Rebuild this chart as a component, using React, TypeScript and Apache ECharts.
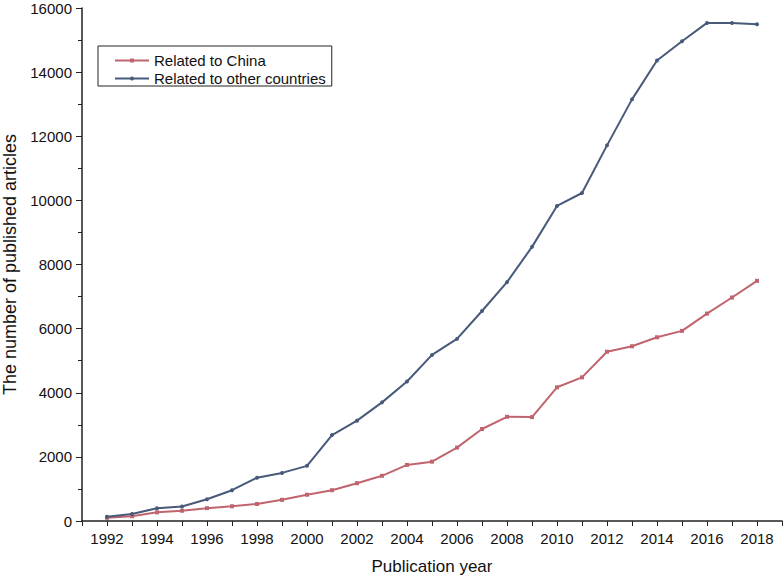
import React, { useEffect, useRef } from "react";
import * as echarts from "echarts";

const years = [1992,1993,1994,1995,1996,1997,1998,1999,2000,2001,2002,2003,2004,2005,2006,2007,2008,2009,2010,2011,2012,2013,2014,2015,2016,2017,2018];
const china = [100,150,270,320,400,460,530,660,820,960,1180,1410,1750,1850,2290,2870,3250,3240,4170,4480,5280,5450,5730,5930,6470,6970,7490];
const others = [130,220,400,450,680,960,1350,1500,1720,2680,3130,3700,4350,5180,5680,6550,7450,8550,9825,10230,11715,13150,14365,14965,15535,15535,15495];
const seriesNames = ["Related to China", "Related to other countries"];

export default function App() {
  const ref = useRef<HTMLDivElement>(null);
  useEffect(() => {
    const chart = echarts.init(ref.current!, null, { renderer: "svg" });
    const font = "Liberation Sans, Arial, sans-serif";
    chart.setOption({
      animation: false,
      textStyle: { fontFamily: font },
      grid: { left: 82, top: 8, right: 2, bottom: 56, containLabel: false, outerBoundsMode: "none" },
      legend: {
        orient: "vertical",
        left: 98,
        top: 46,
        data: seriesNames,
        borderColor: "#222",
        borderWidth: 1,
        padding: [7, 6, 0, 16],
        itemGap: 3,
        itemWidth: 34,
        itemHeight: 5,
        textStyle: { fontSize: 15, color: "#111", fontFamily: font },
      },
      xAxis: {
        type: "value",
        min: 1991,
        max: 2019,
        interval: 1,
        name: "Publication year",
        nameLocation: "middle",
        nameGap: 37,
        nameTextStyle: { fontSize: 17, color: "#111", fontFamily: font },
        axisLine: { lineStyle: { color: "#222", width: 1.5 } },
        axisTick: { inside: false, length: 5, lineStyle: { color: "#222" } },
        splitLine: { show: false },
        axisLabel: {
          fontSize: 15,
          color: "#111",
          margin: 10,
          formatter: (v: number) => (v % 2 === 0 && v >= 1992 && v <= 2018 ? String(v) : ""),
        },
      },
      yAxis: {
        type: "value",
        min: 0,
        max: 16000,
        interval: 2000,
        name: "The number of published articles",
        nameLocation: "middle",
        nameGap: 62,
        nameTextStyle: { fontSize: 18, color: "#111", fontFamily: font },
        axisLine: { show: true, lineStyle: { color: "#222", width: 1.5 } },
        axisTick: { show: true, length: 6, lineStyle: { color: "#222" } },
        minorTick: { show: true, splitNumber: 2, length: 4, lineStyle: { color: "#222" } },
        splitLine: { show: false },
        axisLabel: { fontSize: 15, color: "#111", margin: 10, formatter: (v: number) => String(v) },
      },
      series: [
        {
          name: seriesNames[0],
          type: "line",
          data: years.map((y, i) => [y, china[i]]),
          symbol: "rect",
          symbolSize: 4,
          lineStyle: { color: "#c0646e", width: 2 },
          itemStyle: { color: "#c0646e" },
        },
        {
          name: seriesNames[1],
          type: "line",
          data: years.map((y, i) => [y, others[i]]),
          symbol: "circle",
          symbolSize: 4,
          lineStyle: { color: "#485a7a", width: 2 },
          itemStyle: { color: "#485a7a" },
        },
      ],
    });
    return () => chart.dispose();
  }, []);
  return <div ref={ref} style={{ width: 784, height: 577, position: "absolute", left: 0, top: 0, background: "#fff" }} />;
}
